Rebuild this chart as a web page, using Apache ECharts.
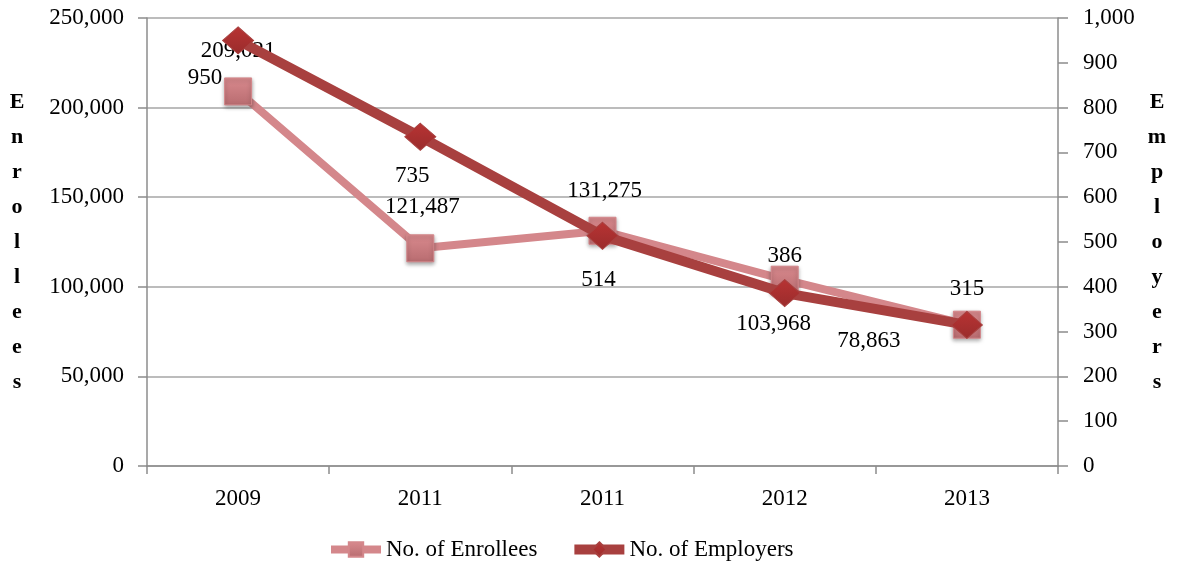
<!DOCTYPE html>
<html>
<head>
<meta charset="utf-8">
<script src="https://cdn.jsdelivr.net/npm/echarts@6/dist/echarts.min.js"></script>
<style>
  html, body { margin: 0; padding: 0; background: #fff; }
  #chart { width: 1181px; height: 572px; }
</style>
</head>
<body>
<div id="chart"></div>
<script>
const years = ['2009', '2011', '2011', '2012', '2013'];
const enrollees = [209021, 121487, 131275, 103968, 78863];
const employers = [950, 735, 514, 386, 315];
// label nudges
const enrolleeOffsets = [[0, -40], [2, -41], [2, -40], [-11, 44], [-98, 16]];
const employerOffsets = [[-33, 38], [-8, 39], [-4, 44], [0, -37], [0, -36]];

const font = 'Liberation Serif';
const fmt = v => v.toLocaleString('en-US');

const chart = echarts.init(document.getElementById('chart'));

function labelled(values, offsets) {
    return values.map((v, i) => ({
        value: v,
        label: { offset: offsets[i] }
    }));
}

const axisName = {
    fontFamily: font, fontSize: 22, fontWeight: 'bold', color: '#000',
    lineHeight: 35, align: 'center', verticalAlign: 'middle'
};
const tickText = { fontSize: 23, color: '#000', fontFamily: font };

const option = {
    animation: false,
    textStyle: { fontFamily: font },
    grid: { left: 147, right: 123, top: 18, bottom: 106 },
    legend: {
        bottom: 6,
        left: 322,
        itemWidth: 50,
        itemHeight: 18,
        itemGap: 32,
        textStyle: { fontFamily: font, fontSize: 23, color: '#000' },
        data: [
            { name: 'No. of Enrollees', lineStyle: { width: 8 } },
            { name: 'No. of Employers', lineStyle: { width: 10 } }
        ]
    },
    xAxis: {
        type: 'category',
        data: years,
        boundaryGap: true,
        axisLine: { lineStyle: { color: '#8c8c8c', width: 1.5 } },
        axisTick: { show: true, length: 8, lineStyle: { color: '#8c8c8c', width: 1.5 } },
        axisLabel: Object.assign({ margin: 21 }, tickText)
    },
    yAxis: [
        {
            type: 'value',
            min: 0, max: 250000, interval: 50000,
            name: 'Enrollees'.split('').join('\n'),
            nameLocation: 'middle',
            nameGap: 130,
            nameRotate: 0,
            nameTextStyle: axisName,
            axisLine: { show: true, lineStyle: { color: '#8c8c8c', width: 1.5 } },
            axisTick: { show: true, length: 9, lineStyle: { color: '#8c8c8c', width: 1.5 } },
            axisLabel: Object.assign({ margin: 23, formatter: fmt }, tickText),
            splitLine: { lineStyle: { color: '#a6a6a6', width: 1.5 } }
        },
        {
            type: 'value',
            min: 0, max: 1000, interval: 100,
            position: 'right',
            name: 'Employers'.split('').join('\n'),
            nameLocation: 'middle',
            nameGap: 99,
            nameRotate: 0,
            nameTextStyle: axisName,
            axisLine: { show: true, lineStyle: { color: '#8c8c8c', width: 1.5 } },
            axisTick: { show: true, length: 10, lineStyle: { color: '#8c8c8c', width: 1.5 } },
            axisLabel: Object.assign({ margin: 25, formatter: fmt }, tickText),
            splitLine: { show: false }
        }
    ],
    series: [
        {
            name: 'No. of Enrollees',
            type: 'line',
            yAxisIndex: 0,
            data: labelled(enrollees, enrolleeOffsets),
            symbol: 'rect',
            symbolSize: 27,
            lineStyle: { color: '#d4878b', width: 8 },
            itemStyle: {
                color: new echarts.graphic.LinearGradient(0, 0, 0, 1, [
                    { offset: 0, color: '#d98a8e' },
                    { offset: 1, color: '#b86c70' }
                ]),
                borderColor: '#d4878b', borderWidth: 1,
                shadowColor: 'rgba(0,0,0,0.35)', shadowBlur: 4, shadowOffsetY: 2
            },
            label: {
                show: true, position: 'inside', color: '#000',
                fontFamily: font, fontSize: 23,
                formatter: p => fmt(p.value)
            },
            z: 2
        },
        {
            name: 'No. of Employers',
            type: 'line',
            yAxisIndex: 1,
            data: labelled(employers, employerOffsets),
            symbol: 'diamond',
            symbolSize: [31, 27],
            lineStyle: { color: '#a8403f', width: 10 },
            itemStyle: {
                color: new echarts.graphic.LinearGradient(0, 0, 0, 1, [
                    { offset: 0, color: '#b83333' },
                    { offset: 1, color: '#9a2c2c' }
                ]),
                borderColor: '#a8403f', borderWidth: 1
            },
            label: {
                show: true, position: 'inside', color: '#000',
                fontFamily: font, fontSize: 23,
                formatter: p => fmt(p.value)
            },
            z: 3
        }
    ]
};

chart.setOption(option);
</script>
</body>
</html>
